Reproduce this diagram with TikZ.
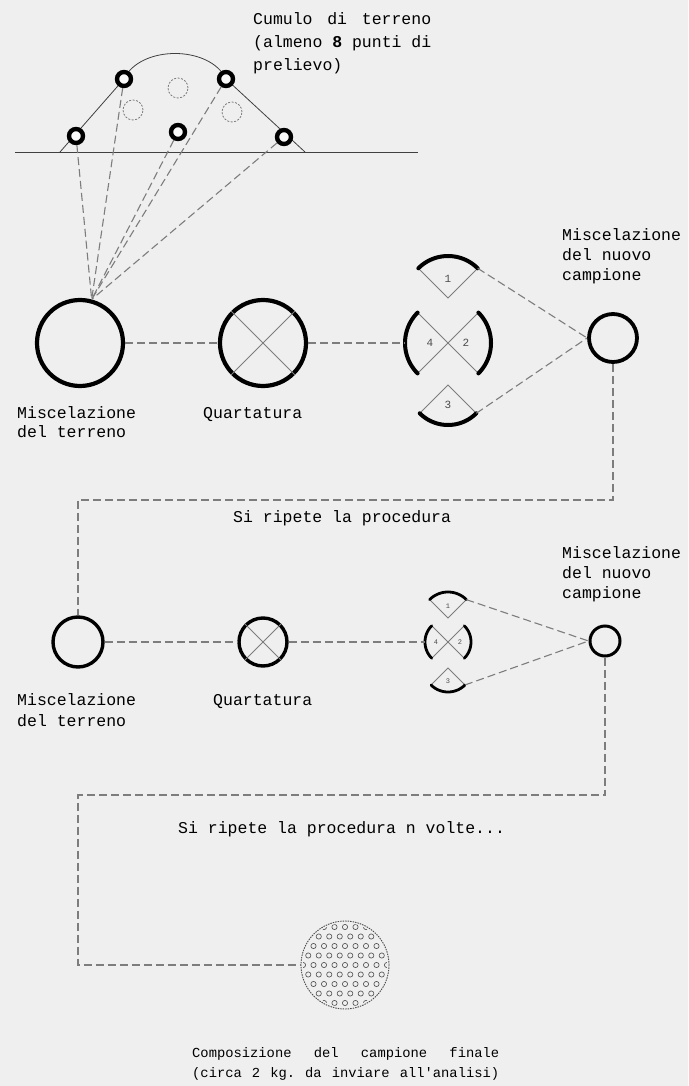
\documentclass[tikz,border=0pt]{standalone}
\usepackage{fontspec}
\setmonofont{Liberation Mono}
\usetikzlibrary{calc}
\definecolor{bg}{RGB}{239,239,239}
\definecolor{dsh}{RGB}{125,125,125}
\tikzset{
  conn/.style={draw=dsh, line width=1.1pt, dash pattern=on 8pt off 4pt},
  ring/.style={circle, draw=black, line width=4.2pt, inner sep=0pt, minimum size=#1},
  sample/.style={circle, draw=black, line width=4.4pt, fill=white!70!bg, inner sep=0pt, minimum size=14pt},
  ghost/.style={circle, draw=dsh, line width=0.8pt, dash pattern=on 2pt off 1.5pt, inner sep=0pt, minimum size=20pt},
  lbl/.style={font=\ttfamily\fontsize{16.5}{20}\selectfont, inner sep=0pt, anchor=base west},
  lblc/.style={font=\ttfamily\fontsize{13.8}{18}\selectfont, inner sep=0pt, anchor=base west},
  num/.style={font=\ttfamily\fontsize{#1}{#1}\selectfont, inner sep=0pt, text=black!70},
  thinx/.style={draw=dsh, line width=0.8pt},
  arcw/.style={line width=#1, line cap=round},
}
\begin{document}
\begin{tikzpicture}[x=1pt,y=-1pt]
\fill[bg] (0,0) rectangle (688,1086);
\useasboundingbox (0,0) rectangle (688,1086);

% ---------- heap ----------
\draw[line width=0.8pt, draw=black!75] (15,152) -- (418,152);
\draw[line width=0.8pt, draw=black!75] (60,152) -- (124,79) .. controls (140,45) and (210,45) .. (226,79) -- (305,152);
\node[ghost] (g1) at (178,88) {};
\node[ghost] (g2) at (133,110) {};
\node[ghost] (g3) at (232,112) {};
\node[sample] (s1) at (76,136) {};
\node[sample] (s2) at (124,79) {};
\node[sample] (s3) at (178,132) {};
\node[sample] (s4) at (226,79) {};
\node[sample] (s5) at (284,137) {};

\node[lbl] at (253,25) {\makebox[178pt][l]{Cumulo\hfill di\hfill terreno}};
\node[lbl] at (253,48) {\makebox[178pt][l]{(almeno\hfill \textbf{8}\hfill punti\hfill di}};
\node[lbl] at (253,71) {prelievo)};

% ---------- row 1 ----------
\node[ring=86pt] (m1) at (80,343) {};
\node[ring=86pt] (q1) at (263,343) {};
\draw[thinx] (q1.45) -- (q1.225) (q1.135) -- (q1.315);
\node[ring=48pt, line width=3.8pt] (n1) at (613,338) {};

\foreach \s in {s1,s2,s3,s4,s5} \draw[conn] (\s) -- (m1.75);

% quartered pieces row 1
\coordinate (X1) at (448,343);
\coordinate (T1) at (448,298);
\coordinate (B1) at (448,385);
\draw[thinx] ($(T1)+(-135:42)$) -- (T1) -- ($(T1)+(-45:42)$);
\draw[thinx] ($(X1)+(135:43)$) -- ($(X1)+(-45:43)$) ($(X1)+(-135:43)$) -- ($(X1)+(45:43)$);
\draw[thinx] ($(B1)+(135:40)$) -- (B1) -- ($(B1)+(45:40)$);
\draw[arcw=4pt] plot[domain=-135:-45, samples=25] ({448+42*cos(\x)},{298+42*sin(\x)});
\draw[arcw=4pt] plot[domain=135:225, samples=25] ({448+43*cos(\x)},{343+43*sin(\x)});
\draw[arcw=4pt] plot[domain=-45:45, samples=25] ({448+43*cos(\x)},{343+43*sin(\x)});
\draw[arcw=4pt] plot[domain=45:135, samples=25] ({448+40*cos(\x)},{385+40*sin(\x)});
\node[num=11] at (448,279) {1};
\node[num=11] at (430,343) {4};
\node[num=11] at (466,343) {2};
\node[num=11] at (448,405) {3};
\coordinate (L1) at (405,343);
\coordinate (TE1) at ($(T1)+(-45:42)$);
\coordinate (BE1) at ($(B1)+(45:40)$);

\draw[conn] (m1.east) -- (q1.west);
\draw[conn] (q1.east) -- (L1);
\draw[conn] (TE1) -- (n1.west);
\draw[conn] (BE1) -- (n1.west);

\node[lbl] at (17,418) {Miscelazione};
\node[lbl] at (17,437) {del terreno};
\node[lbl] at (203,418) {Quartatura};
\node[lbl] at (562,240) {Miscelazione};
\node[lbl] at (562,260) {del nuovo};
\node[lbl] at (562,280) {campione};

% ---------- loop 1 ----------
\node[ring=50pt, line width=3.4pt] (m2) at (78,642) {};
\coordinate (k0) at (78,500);
\draw[conn] (n1.south) |- (k0) -- (m2.north);
\node[lbl] at (233,522) {Si ripete la procedura};

% ---------- row 2 ----------
\node[ring=48pt, line width=3.4pt] (q2) at (263,642) {};
\draw[thinx] (q2.45) -- (q2.225) (q2.135) -- (q2.315);
\node[ring=30pt, line width=3pt] (n2) at (605,641) {};

\coordinate (X2) at (448,642);
\coordinate (T2) at (448,618);
\coordinate (B2) at (448,668);
\draw[thinx] ($(T2)+(-135:26)$) -- (T2) -- ($(T2)+(-45:26)$);
\draw[thinx] ($(X2)+(135:23)$) -- ($(X2)+(-45:23)$) ($(X2)+(-135:23)$) -- ($(X2)+(45:23)$);
\draw[thinx] ($(B2)+(135:24)$) -- (B2) -- ($(B2)+(45:24)$);
\draw[arcw=2.8pt] plot[domain=-135:-45, samples=25] ({448+26*cos(\x)},{618+26*sin(\x)});
\draw[arcw=2.8pt] plot[domain=135:225, samples=25] ({448+23*cos(\x)},{642+23*sin(\x)});
\draw[arcw=2.8pt] plot[domain=-45:45, samples=25] ({448+23*cos(\x)},{642+23*sin(\x)});
\draw[arcw=2.8pt] plot[domain=45:135, samples=25] ({448+24*cos(\x)},{668+24*sin(\x)});
\node[num=7] at (448,606) {1};
\node[num=7] at (436,642) {4};
\node[num=7] at (460,642) {2};
\node[num=7] at (448,681) {3};
\coordinate (L2) at (425,642);
\coordinate (TE2) at ($(T2)+(-45:26)$);
\coordinate (BE2) at ($(B2)+(45:24)$);

\draw[conn] (m2.east) -- (q2.west);
\draw[conn] (q2.east) -- (L2);
\draw[conn] (TE2) -- (n2.west);
\draw[conn] (BE2) -- (n2.west);

\node[lbl] at (17,705) {Miscelazione};
\node[lbl] at (17,726) {del terreno};
\node[lbl] at (213,705) {Quartatura};
\node[lbl] at (562,558) {Miscelazione};
\node[lbl] at (562,578) {del nuovo};
\node[lbl] at (562,598) {campione};

% ---------- final ----------
\node[circle, draw=black!70, line width=0.9pt, dash pattern=on 1.5pt off 1pt, inner sep=0pt, minimum size=88pt] (fc) at (345,965) {};
\begin{scope}
  \clip (345,965) circle[radius=42];
  \foreach \j in {-5,...,5} {
    \foreach \i in {-5,...,5} {
      \pgfmathsetmacro\xx{345+\i*10.5+abs(mod(\j,2))*5.25}
      \pgfmathsetmacro\yy{965+\j*9.5}
      \draw[black!65, line width=0.7pt] (\xx,\yy) circle[radius=2.6];
    }
  }
\end{scope}
\coordinate (k1) at (78,795);
\coordinate (k2) at (78,965);
\draw[conn] (n2.south) |- (k1) -- (k2) -- (fc.west);
\node[lbl] at (178,833) {Si ripete la procedura n volte...};
\node[lblc] at (192,1057) {\makebox[307pt][l]{Composizione\hfill del\hfill campione\hfill finale}};
\node[lblc] at (192,1077) {\makebox[307pt][l]{(circa\hfill 2\hfill kg.\hfill da\hfill inviare\hfill all'analisi)}};
\end{tikzpicture}
\end{document}
